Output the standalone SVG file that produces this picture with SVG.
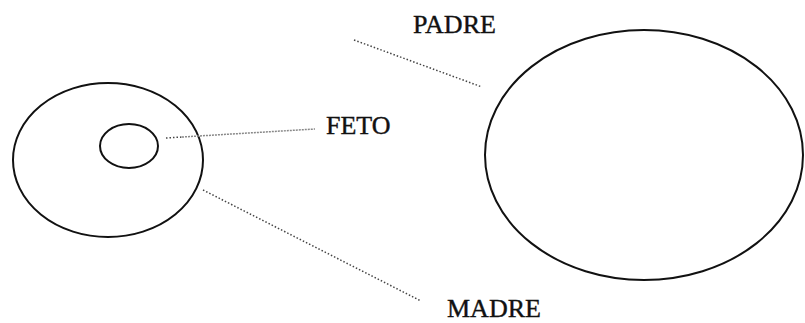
<svg xmlns="http://www.w3.org/2000/svg" width="805" height="323" viewBox="0 0 805 323">
<style>
.shape{fill:none;stroke:#111;stroke-width:2}
.lbl{font-family:"Liberation Serif","Times New Roman",serif;font-size:26px;fill:#111;stroke:#111;stroke-width:0.4}
.dot{stroke:#444;stroke-width:1.5;stroke-dasharray:1.5 2;fill:none}
.dotl{stroke:#888;stroke-width:1.5;stroke-dasharray:2 1;fill:none}
</style>
<rect width="805" height="323" fill="#fff"/>
<g id="madre"><ellipse class="shape" cx="108" cy="160" rx="95" ry="77"/></g>
<g id="feto"><ellipse class="shape" cx="129" cy="146" rx="29" ry="22"/></g>
<g id="padre"><ellipse class="shape" cx="644" cy="155" rx="159" ry="125"/></g>
<g id="connectors">
<line class="dot" x1="166" y1="138" x2="182" y2="137"/>
<line class="dotl" x1="182" y1="137" x2="315" y2="129"/>
<line class="dot" x1="354" y1="40" x2="482" y2="87"/>
<line class="dot" x1="203" y1="190" x2="421" y2="301"/>
</g>
<g id="labels">
<text class="lbl" x="447" y="317">MADRE</text>
<text class="lbl" x="413" y="33">PADRE</text>
<text class="lbl" x="326" y="134">FETO</text>
</g>
</svg>
